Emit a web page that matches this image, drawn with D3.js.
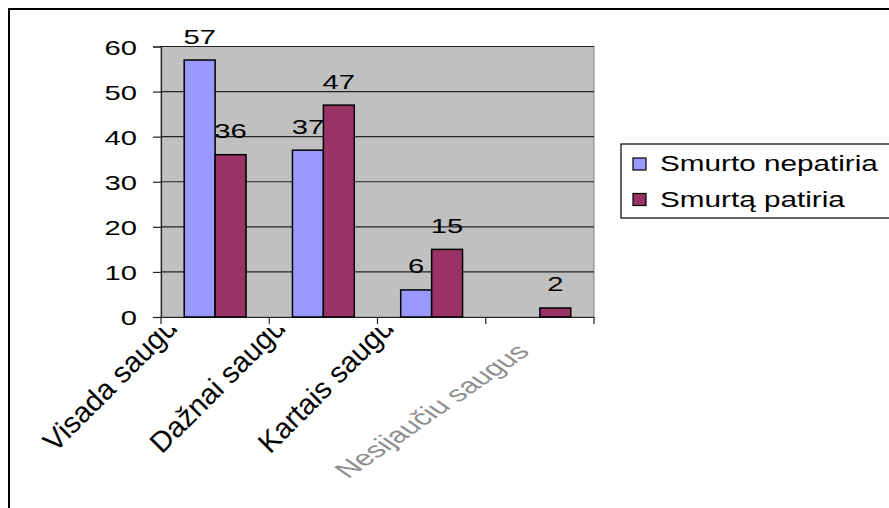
<!DOCTYPE html>
<html>
<head>
	<meta charset="UTF-8">
	<title>Saugumas</title>
	<script src="https://d3js.org/d3.v7.min.js"></script>
	<style type="text/css">
	body {
		margin: 0;
		background-color: white;
	}
	svg text {
		font-family: "Liberation Sans", Arial, sans-serif;
		font-size: 21px;
		fill: black;
	}
	</style>
</head>
<body>
<div id="myDiv"></div>

<script>
// chart data
var categories = ["Visada saugus", "Dažnai saugus", "Kartais saugus", "Nesijaučiu saugus"];
var seriesNames = ["Smurto nepatiria", "Smurtą patiria"];
var nepatiria = [57, 37, 6, 0];
var patiria = [36, 47, 15, 2];
var yTicks = [0, 10, 20, 30, 40, 50, 60];
var colors = ["#9999ff", "#993366"];

var width = 889;
var height = 508;
var sx = 1.39; // text in the picture is stretched sideways

var plot = {left: 161, right: 594, top: 46.5, bottom: 317};

var svg = d3.select("#myDiv").append("svg")
	.attr("width", width)
	.attr("height", height);

// outer frame (runs off the picture on the right and bottom)
svg.append("rect")
	.attr("x", 9).attr("y", 9)
	.attr("width", 1000).attr("height", 1000)
	.attr("fill", "white")
	.attr("stroke", "black")
	.attr("stroke-width", 2);

var yScale = d3.scaleLinear()
	.domain([0, 60])
	.range([plot.bottom, plot.top]);

var x0 = d3.scaleBand()
	.domain(categories)
	.range([plot.left, plot.right]);

var x1 = d3.scaleBand()
	.domain(seriesNames)
	.range([0, x0.bandwidth()])
	.paddingOuter(0.75);

// plot area
svg.append("rect")
	.attr("x", plot.left).attr("y", plot.top)
	.attr("width", plot.right - plot.left)
	.attr("height", plot.bottom - plot.top)
	.attr("fill", "#c0c0c0")
	.attr("stroke", "#808080")
	.attr("stroke-width", 1);

// gridlines
svg.append("g").selectAll("line")
	.data(yTicks.slice(1))
	.enter().append("line")
		.attr("x1", plot.left).attr("x2", plot.right)
		.attr("y1", function(d){ return yScale(d); })
		.attr("y2", function(d){ return yScale(d); })
		.attr("stroke", "#222")
		.attr("stroke-width", 1.2);

// y axis
var yAxis = d3.axisLeft(yScale)
	.tickValues(yTicks)
	.tickSize(8)
	.tickPadding(16)
	.tickFormat(function(d){ return d; });

var yG = svg.append("g")
	.attr("transform", "translate(" + plot.left + ",0)")
	.call(yAxis);
yG.select(".domain").attr("stroke", "#222").attr("stroke-width", 1.2);
yG.selectAll(".tick line").attr("stroke", "#222").attr("stroke-width", 1.2);
yG.selectAll(".tick text")
	.attr("font-size", null)
	.attr("font-family", null)
	.attr("dy", null)
	.attr("x", 0)
	.attr("transform", "translate(-24,7.5) scale(" + sx + ",1)");

// x axis with ticks between the categories
var xAxis = d3.axisBottom(x0)
	.tickSize(0)
	.tickFormat("");
var xG = svg.append("g")
	.attr("transform", "translate(0," + plot.bottom + ")")
	.call(xAxis);
xG.select(".domain").attr("stroke", "#222").attr("stroke-width", 1.2);
xG.selectAll(".sep")
	.data(d3.range(categories.length + 1))
	.enter().append("line")
		.attr("class", "sep")
		.attr("x1", function(i){ return plot.left + i * x0.step(); })
		.attr("x2", function(i){ return plot.left + i * x0.step(); })
		.attr("y1", 0).attr("y2", 7)
		.attr("stroke", "#222")
		.attr("stroke-width", 1.2);

// bars
var values = [nepatiria, patiria];
var barData = [];
categories.forEach(function(c, i){
	seriesNames.forEach(function(s, j){
		barData.push({cat: c, series: s, value: values[j][i], color: colors[j]});
	});
});

svg.append("g").selectAll("rect")
	.data(barData.filter(function(d){ return d.value > 0; }))
	.enter().append("rect")
		.attr("x", function(d){ return x0(d.cat) + x1(d.series); })
		.attr("y", function(d){ return yScale(d.value); })
		.attr("width", x1.bandwidth())
		.attr("height", function(d){ return yScale(0) - yScale(d.value); })
		.attr("fill", function(d){ return d.color; })
		.attr("stroke", "black")
		.attr("stroke-width", 1.5);

// value labels
svg.append("g").selectAll("text")
	.data(barData.filter(function(d){ return d.value > 0; }))
	.enter().append("text")
		.attr("text-anchor", "middle")
		.attr("transform", function(d){
			var x = x0(d.cat) + x1(d.series) + x1.bandwidth() / 2;
			var y = yScale(d.value) - 16.5;
			return "translate(" + x + "," + y + ") scale(" + sx + ",1)";
		})
		.text(function(d){ return d.value; });

// category labels, cut off below the axis
svg.append("clipPath").attr("id", "labelClip")
	.append("rect")
		.attr("x", 0).attr("y", 328)
		.attr("width", width).attr("height", height);

var catG = svg.append("g").attr("clip-path", "url(#labelClip)");

catG.selectAll("text")
	.data(categories.slice(0, 3))
	.enter().append("text")
		.attr("text-anchor", "end")
		.style("font-size", "29px")
		.attr("transform", function(d){
			var x = x0(d) + x0.bandwidth() / 2 - 26;
			return "translate(" + x + "," + (plot.bottom + 2) + ") rotate(-45)";
		})
		.text(function(d){ return d; });

// last label is drawn pale and squashed
catG.append("text")
	.attr("text-anchor", "end")
	.style("fill", "#8f8f8f")
	.style("font-size", "22px")
	.attr("transform", function(){
		var d = categories[3];
		var x = x0(d) + x0.bandwidth() / 2 - 9;
		return "translate(" + x + ",353) scale(1.45,1) rotate(-45)";
	})
	.text(categories[3]);

// legend
var legend = svg.append("g");
legend.append("rect")
	.attr("x", 621).attr("y", 144)
	.attr("width", 300).attr("height", 74)
	.attr("fill", "white")
	.attr("stroke", "black")
	.attr("stroke-width", 1.2);

var items = legend.selectAll(".item")
	.data(seriesNames)
	.enter().append("g")
		.attr("class", "item")
		.attr("transform", function(d, i){ return "translate(633," + (158 + i * 35.5) + ")"; });

items.append("rect")
	.attr("width", 13).attr("height", 12)
	.attr("fill", function(d, i){ return colors[i]; })
	.attr("stroke", "black")
	.attr("stroke-width", 1.2);

items.append("text")
	.style("font-size", "22px")
	.attr("transform", "translate(27,13) scale(1.35,1)")
	.text(function(d){ return d; });
</script>
</body>
</html>
